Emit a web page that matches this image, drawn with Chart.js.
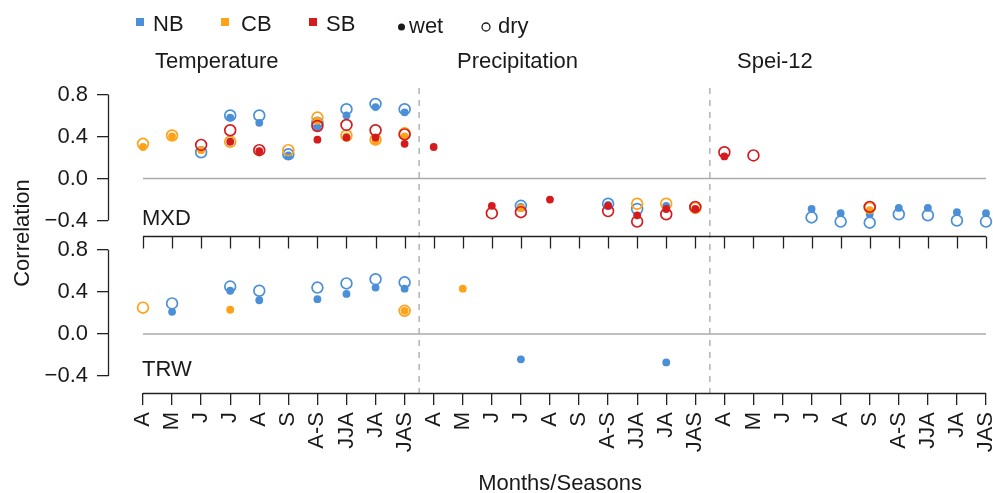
<!DOCTYPE html>
<html lang="en">
<head>
    <meta charset="UTF-8">
    <title>MXD / TRW correlations</title>
    <script src="https://cdn.jsdelivr.net/npm/chart.js@4.4.1/dist/chart.umd.min.js"></script>
    <style>
        html, body { margin: 0; padding: 0; background: #fff; }
        #corrChart { display: block; }
    </style>
</head>
<body>
    <canvas id="corrChart" width="993" height="493"></canvas>

    <script>
        // categories: three blocks (Temperature, Precipitation, Spei-12)
        const months = ['A', 'M', 'J', 'J', 'A', 'S', 'A-S', 'JJA', 'JA', 'JAS'];
        const categories = [...months, ...months, ...months];
        const groupTitles = ['Temperature', 'Precipitation', 'Spei-12'];
        const yTickValues = [-0.4, -0.2, 0, 0.2, 0.4, 0.6, 0.8];

        // MXD panel
        const mxdNbWet = [null, null, null, 0.58, 0.53, 0.22, 0.49, 0.60, 0.68, 0.63,
                          null, null, null, -0.27, null, null, -0.25, null, -0.26, null,
                          null, null, null, -0.29, -0.33, -0.34, -0.28, -0.28, -0.32, -0.33];
        const mxdNbDry = [null, null, 0.25, 0.60, 0.60, 0.23, 0.53, 0.66, 0.71, 0.66,
                          null, null, null, -0.26, null, null, -0.24, -0.29, null, null,
                          null, null, null, -0.37, -0.41, -0.42, -0.34, -0.35, -0.40, -0.41];
        const mxdCbWet = [0.30, 0.40, 0.27, null, null, null, 0.55, 0.40, 0.36, 0.40,
                          null, null, null, -0.28, null, null, null, null, null, -0.30,
                          null, null, null, null, null, -0.30, null, null, null, null];
        const mxdCbDry = [0.33, 0.41, null, 0.35, null, 0.27, 0.58, 0.41, 0.37, 0.43,
                          null, null, null, null, null, null, null, -0.24, -0.24, -0.28,
                          null, null, null, null, null, -0.28, null, null, null, null];
        const mxdSbWet = [null, null, null, 0.35, 0.26, null, 0.37, 0.39, 0.39, 0.33,
                          0.30, null, -0.26, null, -0.20, null, -0.26, -0.35, -0.29, -0.29,
                          0.21, null, null, null, null, null, null, null, null, null];
        const mxdSbDry = [null, null, 0.32, 0.46, 0.27, null, 0.50, 0.51, 0.46, 0.42,
                          null, null, -0.33, -0.32, null, null, -0.31, -0.41, -0.34, -0.27,
                          0.25, 0.22, null, null, null, -0.27, null, null, null, null];

        // TRW panel
        const trwNbWet = [null, 0.21, null, 0.41, 0.32, null, 0.33, 0.38, 0.44, 0.43,
                          null, null, null, -0.24, null, null, null, null, -0.27, null,
                          null, null, null, null, null, null, null, null, null, null];
        const trwNbDry = [null, 0.29, null, 0.45, 0.41, null, 0.44, 0.48, 0.52, 0.49,
                          null, null, null, null, null, null, null, null, null, null,
                          null, null, null, null, null, null, null, null, null, null];
        const trwCbWet = [null, null, null, 0.23, null, null, null, null, null, 0.22,
                          null, 0.43, null, null, null, null, null, null, null, null,
                          null, null, null, null, null, null, null, null, null, null];
        const trwCbDry = [0.25, null, null, null, null, null, null, null, null, 0.22,
                          null, null, null, null, null, null, null, null, null, null,
                          null, null, null, null, null, null, null, null, null, null];

        const colors = { NB: '#4a8fd8', CB: '#ffa21a', SB: '#d41c1f' };
        const FONT = '"Liberation Sans", Arial, Helvetica, sans-serif';
        const TEXT = '#1a1a1a';

        function toPoints(values) {
            return values
                .map((v, i) => (v === null ? null : { x: i, y: v }))
                .filter(p => p !== null);
        }

        function makeSeries(label, values, color, wet, axis, order) {
            return {
                label: label,
                data: toPoints(values),
                yAxisID: axis,
                order: order,
                showLine: false,
                clip: false,
                pointRadius: wet ? 3.9 : 5.4,
                pointBorderWidth: wet ? 0 : 1.7,
                pointBackgroundColor: wet ? color : 'rgba(0,0,0,0)',
                pointBorderColor: color
            };
        }

        const datasets = [
            makeSeries('MXD SB wet', mxdSbWet, colors.SB, true, 'yMxd', 0),
            makeSeries('MXD SB dry', mxdSbDry, colors.SB, false, 'yMxd', 1),
            makeSeries('MXD CB wet', mxdCbWet, colors.CB, true, 'yMxd', 2),
            makeSeries('MXD CB dry', mxdCbDry, colors.CB, false, 'yMxd', 3),
            makeSeries('MXD NB wet', mxdNbWet, colors.NB, true, 'yMxd', 4),
            makeSeries('MXD NB dry', mxdNbDry, colors.NB, false, 'yMxd', 5),
            makeSeries('TRW CB wet', trwCbWet, colors.CB, true, 'yTrw', 2),
            makeSeries('TRW CB dry', trwCbDry, colors.CB, false, 'yTrw', 3),
            makeSeries('TRW NB wet', trwNbWet, colors.NB, true, 'yTrw', 4),
            makeSeries('TRW NB dry', trwNbDry, colors.NB, false, 'yTrw', 5)
        ];

        function yLabel(value) {
            const tenths = Math.round(value * 10);
            if (tenths % 4 !== 0) return '';
            return value.toFixed(1).replace('-', '\u2212');
        }

        function panelAxis(min, max) {
            return {
                type: 'linear',
                position: 'left',
                stack: 'panels',
                stackWeight: 1,
                min: min,
                max: max,
                afterBuildTicks: s => { s.ticks = yTickValues.map(v => ({ value: v })); },
                afterFit: s => { s.width = 108; s.paddingTop = 0; s.paddingBottom = 0; },
                border: { display: false },
                grid: { drawOnChartArea: false, drawTicks: true, tickLength: 11, color: '#222', lineWidth: 1.3 },
                ticks: {
                    padding: 9,
                    color: TEXT,
                    font: { family: FONT, size: 22 },
                    callback: v => yLabel(v)
                }
            };
        }

        function line(ctx, x0, y0, x1, y1) {
            ctx.beginPath();
            ctx.moveTo(x0, y0);
            ctx.lineTo(x1, y1);
            ctx.stroke();
        }

        // zero lines, separators and R-style axis lines
        const panelDecor = {
            id: 'panelDecor',
            beforeDatasetsDraw(chart) {
                const { ctx, chartArea } = chart;
                const x = chart.scales.x;
                const panels = [chart.scales.yMxd, chart.scales.yTrw];
                const xa = x.getPixelForValue(0);
                const xb = x.getPixelForValue(categories.length - 1);
                ctx.save();

                ctx.strokeStyle = '#aaaaaa';
                ctx.lineWidth = 1.5;
                panels.forEach(s => {
                    const y0 = s.getPixelForValue(0);
                    line(ctx, xa, y0, xb, y0);
                });

                ctx.setLineDash([6, 6]);
                ctx.strokeStyle = '#b3b3b3';
                [9.5, 19.5].forEach(v => {
                    const px = x.getPixelForValue(v);
                    line(ctx, px, chartArea.top + 8, px, chartArea.bottom);
                });
                ctx.setLineDash([]);

                ctx.strokeStyle = '#222';
                ctx.lineWidth = 1.3;
                panels.forEach(s => {
                    const left = Math.round(chartArea.left) + 0.5;
                    line(ctx, left, s.getPixelForValue(0.8), left, s.getPixelForValue(-0.4));
                });

                const mxdBase = Math.round(chart.scales.yMxd.bottom) - 0.5;
                line(ctx, xa, mxdBase, xb, mxdBase);
                categories.forEach((c, i) => {
                    const px = Math.round(x.getPixelForValue(i)) + 0.5;
                    line(ctx, px, mxdBase, px, mxdBase + 12);
                });
                const bottom = Math.round(chartArea.bottom) + 0.5;
                line(ctx, xa, bottom, xb, bottom);
                ctx.restore();
            },
            afterDraw(chart) {
                const { ctx } = chart;
                const x = chart.scales.x;
                ctx.save();
                ctx.fillStyle = TEXT;
                ctx.font = '22px ' + FONT;
                ctx.textBaseline = 'alphabetic';
                ctx.textAlign = 'left';

                // legend
                [['NB', 136, 153], ['CB', 221, 241], ['SB', 309, 326]].forEach(([name, mx, tx]) => {
                    ctx.fillStyle = colors[name];
                    ctx.fillRect(mx, 18, 8, 8);
                    ctx.fillStyle = TEXT;
                    ctx.fillText(name, tx, 31);
                });
                ctx.beginPath();
                ctx.arc(401.5, 27, 3.5, 0, Math.PI * 2);
                ctx.fill();
                ctx.fillText('wet', 409, 33);
                ctx.beginPath();
                ctx.lineWidth = 1.3;
                ctx.strokeStyle = TEXT;
                ctx.arc(486, 27, 4, 0, Math.PI * 2);
                ctx.stroke();
                ctx.fillText('dry', 498, 33);

                // block titles
                [155, 457, 737].forEach((px, i) => ctx.fillText(groupTitles[i], px, 68));

                // panel names
                const left = x.getPixelForValue(0) - 1;
                ctx.fillText('MXD', left, 225);
                ctx.fillText('TRW', left, 376);

                // axis titles
                ctx.textAlign = 'center';
                ctx.fillText('Months/Seasons', x.getPixelForValue(14.35), 490);
                ctx.translate(29, 233);
                ctx.rotate(-Math.PI / 2);
                ctx.fillText('Correlation', 0, 0);
                ctx.restore();
            }
        };

        const chart = new Chart(document.getElementById('corrChart').getContext('2d'), {
            type: 'scatter',
            data: { datasets: datasets },
            options: {
                responsive: false,
                animation: false,
                events: [],
                layout: { padding: { top: 80, left: 0, right: 0, bottom: 0 }, autoPadding: false },
                plugins: {
                    legend: { display: false },
                    tooltip: { enabled: false }
                },
                scales: {
                    x: {
                        type: 'linear',
                        min: -1.204,
                        max: 29.241,
                        afterBuildTicks: s => { s.ticks = categories.map((c, i) => ({ value: i })); },
                        afterFit: s => { s.height = 100; s.paddingLeft = 0; s.paddingRight = 0; },
                        border: { display: false },
                        grid: { drawOnChartArea: false, drawTicks: true, tickLength: 12, color: '#222', lineWidth: 1.3 },
                        ticks: {
                            autoSkip: false,
                            minRotation: 90,
                            maxRotation: 90,
                            padding: 7,
                            color: TEXT,
                            font: { family: FONT, size: 22 },
                            callback: v => categories[v]
                        }
                    },
                    yTrw: panelAxis(-0.56, 0.925),
                    yMxd: panelAxis(-0.552, 0.938)
                }
            },
            plugins: [panelDecor]
        });
    </script>
</body>
</html>
